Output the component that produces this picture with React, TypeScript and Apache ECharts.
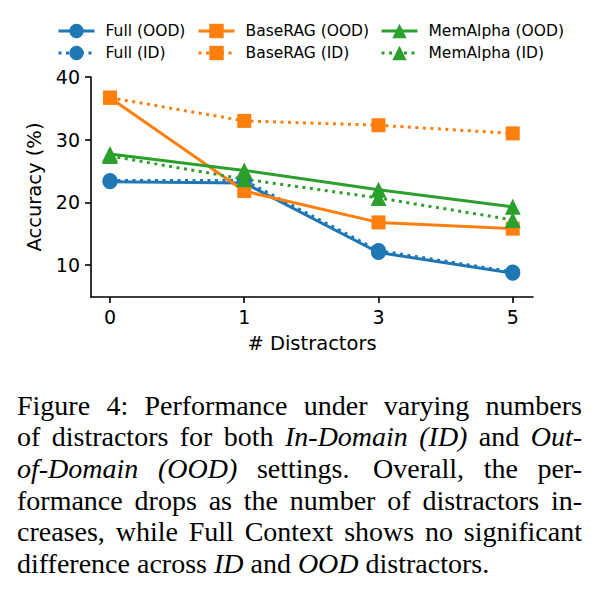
import React, { useEffect, useRef } from "react";
import * as echarts from "echarts";

// Number of distractors (x categories) and accuracy values (%)
const DISTRACTORS = ["0", "1", "3", "5"];
const FULL_OOD = [23.3, 23.1, 12.0, 8.7];
const FULL_ID = [23.5, 23.5, 12.3, 8.9];
const BASERAG_OOD = [36.7, 21.8, 16.8, 15.8];
const BASERAG_ID = [36.7, 33.0, 32.3, 31.0];
const MEMALPHA_OOD = [27.7, 25.1, 22.0, 19.3];
const MEMALPHA_ID = [27.4, 23.7, 20.7, 17.2];
const Y_TICKS = [10, 20, 30, 40];

const BLUE = "#1f77b4";
const ORANGE = "#ff7f0e";
const GREEN = "#2ca02c";

type Seg = { t: string; it?: boolean };
const CAPTION: Seg[][] = [
  [{ t: "Figure 4: Performance under varying numbers" }],
  [
    { t: "of distractors for both " },
    { t: "In-Domain (ID)", it: true },
    { t: " and " },
    { t: "Out-", it: true },
  ],
  [{ t: "of-Domain (OOD)", it: true }, { t: " settings.  Overall, the per-" }],
  [{ t: "formance drops as the number of distractors in-" }],
  [{ t: "creases, while Full Context shows no significant" }],
  [
    { t: "difference across " },
    { t: "ID", it: true },
    { t: " and " },
    { t: "OOD", it: true },
    { t: " distractors." },
  ],
];

const CAP_FONT = 28;
const CAP_FAMILY = '"Liberation Serif", "Times New Roman", serif';
const CAP_LEFT = 17;
const CAP_RIGHT = 582;
const CAP_TOP = 405;
const CAP_LINE = 31.7;

function splitWords(line: Seg[]) {
  const out: { t: string; it: boolean; gap: number }[] = [];
  let cur = "";
  let it = false;
  let spaces = 0;
  let gap = 0;
  for (const seg of line) {
    for (const ch of seg.t) {
      if (ch === " ") {
        if (cur) {
          out.push({ t: cur, it, gap });
          cur = "";
        }
        spaces++;
      } else {
        if (!cur) {
          gap = out.length ? spaces : 0;
          spaces = 0;
          it = !!seg.it;
        }
        cur += ch;
      }
    }
  }
  if (cur) out.push({ t: cur, it, gap });
  return out;
}

function captionElements() {
  const canvas = document.createElement("canvas");
  const ctx = canvas.getContext("2d")!;
  const fontOf = (it: boolean) => `${it ? "italic " : ""}${CAP_FONT}px ${CAP_FAMILY}`;
  const measure = (t: string, it: boolean) => {
    ctx.font = fontOf(it);
    return ctx.measureText(t).width;
  };
  const els: any[] = [];
  const width = CAP_RIGHT - CAP_LEFT;
  const weight = (g: number) => (g > 1 ? 1.2 : 1);
  CAPTION.forEach((line, li) => {
    const words = splitWords(line);
    const widths = words.map((w) => measure(w.t, w.it));
    const total = widths.reduce((a, b) => a + b, 0);
    const units = words.slice(1).reduce((a, w) => a + weight(w.gap), 0);
    const last = li === CAPTION.length - 1;
    const unit = last ? measure(" ", false) : (width - total) / units;
    let x = CAP_LEFT;
    words.forEach((w, i) => {
      if (i > 0) x += unit * weight(w.gap);
      els.push({
        type: "text",
        x,
        y: CAP_TOP + li * CAP_LINE,
        silent: true,
        style: {
          text: w.t,
          fontSize: CAP_FONT,
          fontFamily: CAP_FAMILY,
          fontStyle: w.it ? "italic" : "normal",
          fill: "#000",
          verticalAlign: "middle",
          align: "left",
        },
      });
      x += widths[i];
    });
  });
  return els;
}

function lineSeries(
  name: string,
  values: number[],
  color: string,
  symbol: string,
  symbolSize: number,
  dotted: boolean
) {
  return {
    type: "line",
    name,
    data: values.map((v, i) => [i, v]),
    symbol,
    symbolSize,
    showSymbol: true,
    lineStyle: {
      color,
      width: 3,
      type: dotted ? [3, 4.5] : "solid",
      cap: "butt",
    },
    itemStyle: { color, borderWidth: 0 },
    emphasis: { disabled: true },
  };
}

const SANS = '"DejaVu Sans", sans-serif';

export default function App() {
  const ref = useRef<HTMLDivElement>(null);

  useEffect(() => {
    document.body.style.margin = "0";
    if (!ref.current) return;
    const chart = echarts.init(ref.current, null, { renderer: "svg" });

    const legendCommon = {
      orient: "vertical",
      top: 23,
      padding: 0,
      itemWidth: 36,
      itemHeight: 18,
      itemGap: 6,
      selectedMode: false,
      lineStyle: { width: 3 },
      textStyle: {
        fontSize: 15.5,
        fontFamily: SANS,
        color: "#000",
        padding: [0, 0, 0, 6],
      },
    };

    const axisLineStyle = { color: "#000", width: 1.6 };

    chart.setOption({
      animation: false,
      backgroundColor: "#fff",
      grid: { left: 91, right: 73, top: 77, bottom: 302, containLabel: false },
      legend: [
        { ...legendCommon, left: 57, data: ["Full (OOD)", "Full (ID)"] },
        { ...legendCommon, left: 197, data: ["BaseRAG (OOD)", "BaseRAG (ID)"] },
        { ...legendCommon, left: 380, data: ["MemAlpha (OOD)", "MemAlpha (ID)"] },
      ],
      xAxis: {
        type: "value",
        min: -0.1416,
        max: 3.151,
        splitLine: { show: false },
        axisLine: { show: true, onZero: false, lineStyle: axisLineStyle },
        axisTick: {
          show: true,
          length: 6,
          customValues: DISTRACTORS.map((_, i) => i),
          lineStyle: axisLineStyle,
        },
        axisLabel: {
          customValues: DISTRACTORS.map((_, i) => i),
          formatter: (v: number) => DISTRACTORS[Math.round(v)] ?? "",
          fontSize: 19,
          fontFamily: SANS,
          color: "#000",
          margin: 10,
        },
        name: "# Distractors",
        nameLocation: "middle",
        nameGap: 36,
        nameTextStyle: { fontSize: 19.5, fontFamily: SANS, color: "#000" },
      },
      yAxis: {
        type: "value",
        min: 4.9,
        max: 40,
        splitLine: { show: false },
        axisLine: { show: true, onZero: false, lineStyle: axisLineStyle },
        axisTick: {
          show: true,
          length: 6,
          customValues: Y_TICKS,
          lineStyle: axisLineStyle,
        },
        axisLabel: {
          customValues: Y_TICKS,
          fontSize: 19,
          fontFamily: SANS,
          color: "#000",
          margin: 11,
        },
        name: "Accuracy (%)",
        nameLocation: "middle",
        nameGap: 42,
        nameTextStyle: { fontSize: 19.5, fontFamily: SANS, color: "#000" },
      },
      series: [
        lineSeries("Full (OOD)", FULL_OOD, BLUE, "circle", 15, false),
        lineSeries("Full (ID)", FULL_ID, BLUE, "circle", 15, true),
        lineSeries("BaseRAG (OOD)", BASERAG_OOD, ORANGE, "rect", 14, false),
        lineSeries("BaseRAG (ID)", BASERAG_ID, ORANGE, "rect", 14, true),
        lineSeries("MemAlpha (OOD)", MEMALPHA_OOD, GREEN, "triangle", 16, false),
        lineSeries("MemAlpha (ID)", MEMALPHA_ID, GREEN, "triangle", 16, true),
      ],
      graphic: captionElements(),
    });

    return () => chart.dispose();
  }, []);

  return <div ref={ref} style={{ width: 606, height: 599 }} />;
}
